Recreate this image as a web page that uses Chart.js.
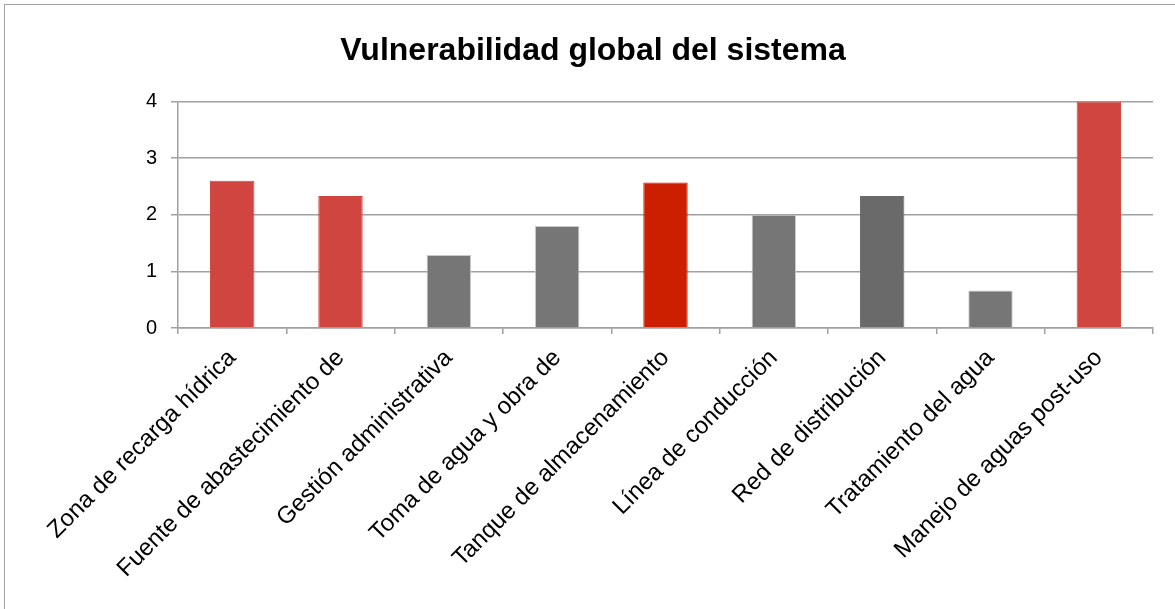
<!DOCTYPE html>
<html>
<head>
<meta charset="utf-8">
<script src="https://cdn.jsdelivr.net/npm/chart.js@4"></script>
<style>
  html, body { margin: 0; padding: 0; background: #fff; overflow: hidden; }
  #wrap { position: relative; width: 1175px; height: 609px; }
  #frame { position: absolute; left: 4px; top: 4px; width: 1200px; height: 700px; border: 1px solid #a3a3a3; }
  canvas { position: absolute; left: 0; top: 0; }
</style>
</head>
<body>
<div id="wrap">
  <div id="frame"></div>
  <canvas id="chart" width="1175" height="609"></canvas>
</div>
<script>
const categories = [
  "Zona de recarga hídrica",
  "Fuente de abastecimiento de",
  "Gestión administrativa",
  "Toma de agua y obra de",
  "Tanque de almacenamiento",
  "Línea de conducción",
  "Red de distribución",
  "Tratamiento del agua",
  "Manejo de aguas post-uso"
];
const vulnerabilidad = [2.6, 2.33, 1.29, 1.8, 2.57, 2.0, 2.33, 0.66, 4.0];
const barColors = ["#d0453f", "#d0453f", "#767676", "#767676", "#cc1f00", "#767676", "#6a6a6a", "#767676", "#d0453f"];
const barEdges = ["#d0453f", "#d0453f", "#c9c9c9", "#c9c9c9", "#cc1f00", "#c9c9c9", "#6a6a6a", "#c9c9c9", "#d0453f"];
const yTicks = [0, 1, 2, 3, 4];

const gridGrey = "#a0a0a0";
const font = "'Liberation Sans', Arial, sans-serif";

const ctx = document.getElementById("chart").getContext("2d");

const chart = new Chart(ctx, {
  type: "bar",
  data: {
    labels: categories,
    datasets: [
      {
        label: "Vulnerabilidad",
        data: vulnerabilidad,
        backgroundColor: barColors,
        borderColor: barEdges,
        borderWidth: 1,
        borderSkipped: "bottom",
        categoryPercentage: 1,
        barPercentage: 0.41
      }
    ]
  },
  options: {
    responsive: false,
    animation: false,
    layout: { padding: { left: 33, right: 22, top: 0, bottom: 0 } },
    plugins: {
      legend: { display: false },
      tooltip: { enabled: false },
      title: {
        display: true,
        text: "Vulnerabilidad global del sistema",
        color: "#000",
        font: { family: font, size: 32, weight: "bold", lineHeight: 1.2 },
        padding: { top: 32, bottom: 31 }
      }
    },
    scales: {
      x: {
        afterFit: scale => { scale.height = 281; },
        grid: { drawOnChartArea: false, color: gridGrey, lineWidth: 1.5, tickLength: 6 },
        border: { color: gridGrey, width: 1.5 },
        ticks: {
          color: "#000",
          font: { family: font, size: 24 },
          minRotation: 45,
          maxRotation: 45,
          autoSkip: false,
          padding: 10
        }
      },
      y: {
        min: 0,
        max: 4,
        afterFit: scale => { scale.width = 145; },
        afterBuildTicks: scale => { scale.ticks = yTicks.map(v => ({ value: v })); },
        grid: { color: gridGrey, lineWidth: 1.5, tickLength: 7 },
        border: { color: gridGrey, width: 1.5 },
        ticks: {
          color: "#000",
          font: { family: font, size: 20 },
          padding: 14
        }
      }
    }
  }
});
</script>
</body>
</html>
